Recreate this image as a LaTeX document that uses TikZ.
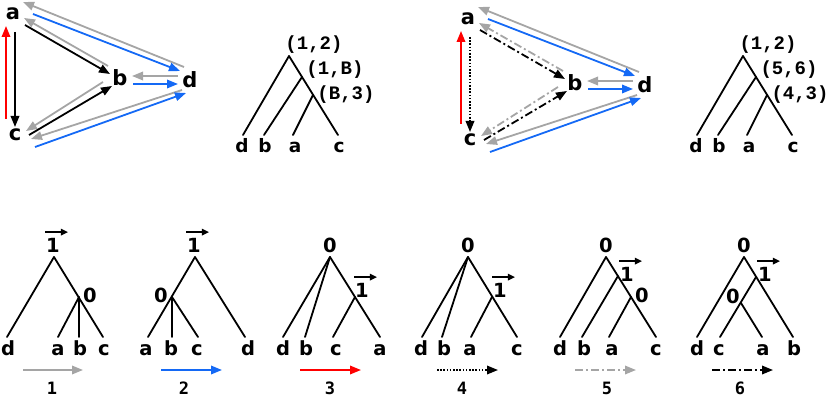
\documentclass[tikz,border=0pt]{standalone}
\usepackage{fontspec}
\usetikzlibrary{arrows.meta}
\newfontfamily\dvs{DejaVu Sans}
\newfontfamily\lmono{Liberation Mono}
\newfontfamily\dvmono{DejaVu Sans Mono}
\definecolor{garr}{RGB}{165,165,165}
\definecolor{barr}{RGB}{20,105,245}
\definecolor{rarr}{RGB}{255,0,0}
\tikzset{
 glab/.style={inner sep=0pt, font=\dvs\bfseries\fontsize{21}{25}\selectfont},
 tlab/.style={inner sep=0pt, anchor=base, font=\dvs\bfseries\fontsize{18.5}{22}\selectfont},
 blab/.style={inner sep=0pt, anchor=base, font=\dvs\bfseries\fontsize{19.5}{23}\selectfont},
 mlab/.style={inner sep=0pt, font=\lmono\bfseries\fontsize{19}{23}\selectfont},
 nlab/.style={inner sep=0pt, anchor=base, font=\dvmono\bfseries\fontsize{17}{20}\selectfont},
 tedge/.style={line width=1.8pt, line cap=round},
 arr/.style={line width=1.8pt, -{Triangle[length=11pt,width=8.5pt]}},
 grayarr/.style={arr, draw=garr},
 bluearr/.style={arr, draw=barr},
 redarr/.style={arr, draw=rarr},
 blkarr/.style={arr, draw=black},
 vecarr/.style={line width=1.3pt, -{Triangle[length=7pt,width=6.5pt]}},
 dashdot/.style={dash pattern=on 8pt off 3pt on 2pt off 3pt},
 dotpat/.style={dash pattern=on 1.6pt off 1.6pt},
}
\newcommand\gedge[5]{\draw[#1] ([shift={(#3)}]#2.center) -- ([shift={(#5)}]#4.center);}
\newcommand\vlab[3]{\node[blab] (#1) at (#2,#3) {1};
 \draw[vecarr] ([shift={(-1,-5.5)}]#1.north west) -- ([shift={(8,-5.5)}]#1.north east);}
\newcommand\toptree[5]{%
 \begin{scope}[shift={(#2,0)}]
 \coordinate (#1r) at (289,56); \coordinate (#1n1) at (302,77); \coordinate (#1n2) at (313,95);
 \coordinate (#1d) at (243,135); \coordinate (#1b) at (264,135);
 \coordinate (#1a) at (293,135); \coordinate (#1c) at (338,135);
 \draw[tedge] (#1r) -- (#1d);
 \draw[tedge] (#1r) -- (#1c);
 \draw[tedge] (#1n1) -- (#1b);
 \draw[tedge] (#1n2) -- (#1a);
 \node[mlab] (#1L0) at (314,45) {#3};
 \node[mlab] (#1L1) at (335,70) {#4};
 \node[mlab] (#1L2) at (346,95) {#5};
 \node[tlab] (#1ld) at (242,153) {d};
 \node[tlab] (#1lb) at (265,153) {b};
 \node[tlab] (#1la) at (295,153) {a};
 \node[tlab] (#1lc) at (339,153) {c};
 \end{scope}}
\begin{document}
\begin{tikzpicture}[x=1pt,y=-1pt]
\useasboundingbox (0,0) rectangle (830,398);
% ---------- graph 1 ----------
\node[glab] (ga1) at (13,14) {a};
\node[glab] (gb1) at (120,78) {b};
\node[glab] (gc1) at (15,135) {c};
\node[glab] (gd1) at (190,80) {d};
\gedge{redarr}{gc1}{-9,-16}{ga1}{-7,12}
\gedge{blkarr}{ga1}{2,18}{gc1}{0,-8}
\gedge{blkarr}{ga1}{12,11}{gb1}{-10,-4}
\gedge{grayarr}{gb1}{-12,-12}{ga1}{11,4}
\gedge{grayarr}{gd1}{-6,-13}{ga1}{10,-12}
\gedge{bluearr}{ga1}{20,0}{gd1}{-10,-9}
\gedge{grayarr}{gd1}{-12,-4}{gb1}{12,-2}
\gedge{bluearr}{gb1}{13,6}{gd1}{-12,4}
\gedge{grayarr}{gb1}{-17,4}{gc1}{11,-4}
\gedge{blkarr}{gc1}{14,0}{gb1}{-8,8}
\gedge{grayarr}{gd1}{-8,10}{gc1}{16,4}
\gedge{bluearr}{gc1}{20,12}{gd1}{-4,13}
% ---------- graph 2 ----------
\begin{scope}[shift={(455,5)}]
\node[glab] (ga2) at (13,14) {a};
\node[glab] (gb2) at (120,78) {b};
\node[glab] (gc2) at (15,135) {c};
\node[glab] (gd2) at (190,80) {d};
\end{scope}
\gedge{redarr}{gc2}{-9,-16}{ga2}{-7,12}
\gedge{blkarr,dotpat}{ga2}{2,18}{gc2}{0,-8}
\gedge{blkarr,dashdot}{ga2}{12,11}{gb2}{-10,-4}
\gedge{grayarr,dashdot}{gb2}{-12,-12}{ga2}{11,4}
\gedge{grayarr}{gd2}{-6,-13}{ga2}{10,-12}
\gedge{bluearr}{ga2}{20,0}{gd2}{-10,-9}
\gedge{grayarr}{gd2}{-12,-4}{gb2}{12,-2}
\gedge{bluearr}{gb2}{13,6}{gd2}{-12,4}
\gedge{grayarr,dashdot}{gb2}{-17,4}{gc2}{11,-4}
\gedge{blkarr,dashdot}{gc2}{14,0}{gb2}{-8,8}
\gedge{grayarr}{gd2}{-8,10}{gc2}{16,4}
\gedge{bluearr}{gc2}{20,12}{gd2}{-4,13}
% ---------- top trees ----------
\toptree{tA}{0}{(1,2)}{(1,B)}{(B,3)}
\toptree{tB}{454}{(1,2)}{(5,6)}{(4,3)}
% ---------- bottom tree 1 ----------
\coordinate (b1r) at (54,257); \coordinate (b1i) at (79,297);
\coordinate (b1d) at (7,337); \coordinate (b1a) at (58,337);
\coordinate (b1b) at (79,337); \coordinate (b1c) at (103,337);
\draw[tedge] (b1r) -- (b1d); \draw[tedge] (b1r) -- (b1c);
\draw[tedge] (b1i) -- (b1a); \draw[tedge] (b1i) -- (b1b);
\vlab{b1L0}{53}{252}
\node[blab] (b1L1) at (90,302) {0};
\node[blab] (b1ld) at (8,355) {d};
\node[blab] (b1la) at (58,355) {a};
\node[blab] (b1lb) at (80,355) {b};
\node[blab] (b1lc) at (104,355) {c};
% ---------- bottom tree 2 ----------
\coordinate (b2r) at (195,257); \coordinate (b2i) at (172,297);
\coordinate (b2a) at (148,337); \coordinate (b2b) at (172,337);
\coordinate (b2c) at (198,337); \coordinate (b2d) at (245,337);
\draw[tedge] (b2r) -- (b2a); \draw[tedge] (b2r) -- (b2d);
\draw[tedge] (b2i) -- (b2b); \draw[tedge] (b2i) -- (b2c);
\vlab{b2L0}{194}{252}
\node[blab] (b2L1) at (161,302) {0};
\node[blab] (b2la) at (146,355) {a};
\node[blab] (b2lb) at (171,355) {b};
\node[blab] (b2lc) at (197,355) {c};
\node[blab] (b2ld) at (248,355) {d};
% ---------- bottom tree 3 ----------
\coordinate (b3r) at (330,257); \coordinate (b3v) at (355,297);
\coordinate (b3d) at (283,337); \coordinate (b3b) at (305,337);
\coordinate (b3c) at (333,337); \coordinate (b3a) at (380,337);
\draw[tedge] (b3r) -- (b3d); \draw[tedge] (b3r) -- (b3b);
\draw[tedge] (b3r) -- (b3a); \draw[tedge] (b3v) -- (b3c);
\node[blab] (b3L0) at (330,253) {0};
\vlab{b3L1}{362}{297}
\node[blab] (b3ld) at (283,355) {d};
\node[blab] (b3lb) at (306,355) {b};
\node[blab] (b3lc) at (336,355) {c};
\node[blab] (b3la) at (380,355) {a};
% ---------- bottom tree 4 ----------
\coordinate (b4r) at (468,257); \coordinate (b4v) at (492,297);
\coordinate (b4d) at (422,337); \coordinate (b4b) at (442,337);
\coordinate (b4a) at (471,337); \coordinate (b4c) at (517,337);
\draw[tedge] (b4r) -- (b4d); \draw[tedge] (b4r) -- (b4b);
\draw[tedge] (b4r) -- (b4c); \draw[tedge] (b4v) -- (b4a);
\node[blab] (b4L0) at (468,253) {0};
\vlab{b4L1}{500}{297}
\node[blab] (b4ld) at (421,355) {d};
\node[blab] (b4lb) at (444,355) {b};
\node[blab] (b4la) at (470,355) {a};
\node[blab] (b4lc) at (517,355) {c};
% ---------- bottom tree 5 ----------
\coordinate (b5r) at (606,257); \coordinate (b5v) at (618,276);
\coordinate (b5z) at (631,297);
\coordinate (b5d) at (560,337); \coordinate (b5b) at (582,337);
\coordinate (b5a) at (609,337); \coordinate (b5c) at (656,337);
\draw[tedge] (b5r) -- (b5d); \draw[tedge] (b5r) -- (b5c);
\draw[tedge] (b5v) -- (b5b); \draw[tedge] (b5z) -- (b5a);
\node[blab] (b5L0) at (606,253) {0};
\vlab{b5L1}{627}{281}
\node[blab] (b5L2) at (642,302) {0};
\node[blab] (b5ld) at (560,355) {d};
\node[blab] (b5lb) at (584,355) {b};
\node[blab] (b5la) at (612,355) {a};
\node[blab] (b5lc) at (656,355) {c};
% ---------- bottom tree 6 ----------
\coordinate (b6r) at (744,257); \coordinate (b6v) at (756,277);
\coordinate (b6z) at (741,303);
\coordinate (b6d) at (697,337); \coordinate (b6c) at (720,337);
\coordinate (b6a) at (762,337); \coordinate (b6b) at (793,337);
\draw[tedge] (b6r) -- (b6d); \draw[tedge] (b6r) -- (b6b);
\draw[tedge] (b6v) -- (b6c); \draw[tedge] (b6z) -- (b6a);
\node[blab] (b6L0) at (744,253) {0};
\vlab{b6L1}{765}{281}
\node[blab] (b6L2) at (733,303) {0};
\node[blab] (b6ld) at (697,355) {d};
\node[blab] (b6lc) at (719,355) {c};
\node[blab] (b6la) at (763,355) {a};
\node[blab] (b6lb) at (794,355) {b};
% ---------- legend ----------
\coordinate (k1s) at (23,370);  \coordinate (k1e) at (83,370);
\coordinate (k2s) at (161,370); \coordinate (k2e) at (222,370);
\coordinate (k3s) at (300,370); \coordinate (k3e) at (361,370);
\coordinate (k4s) at (437,370); \coordinate (k4e) at (498,370);
\coordinate (k5s) at (575,370); \coordinate (k5e) at (636,370);
\coordinate (k6s) at (712,370); \coordinate (k6e) at (773,370);
\draw[grayarr] (k1s) -- (k1e);
\draw[bluearr] (k2s) -- (k2e);
\draw[redarr] (k3s) -- (k3e);
\draw[blkarr,dotpat] (k4s) -- (k4e);
\draw[grayarr,dashdot] (k5s) -- (k5e);
\draw[blkarr,dashdot] (k6s) -- (k6e);
\node[nlab] (n1) at (52,394) {1};
\node[nlab] (n2) at (184,394) {2};
\node[nlab] (n3) at (330,394) {3};
\node[nlab] (n4) at (462,394) {4};
\node[nlab] (n5) at (607,394) {5};
\node[nlab] (n6) at (740,394) {6};
\end{tikzpicture}
\end{document}
